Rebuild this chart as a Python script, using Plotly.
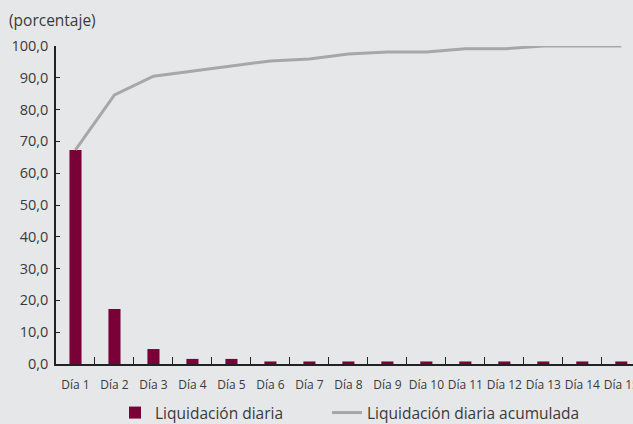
import plotly.graph_objects as go

dias = [f"Día {i}" for i in range(1, 16)]
liquidacion_diaria = [67.3, 17.3, 4.7, 1.6, 1.6, 0.8, 0.8, 0.8, 0.8, 0.8, 0.8, 0.8, 0.8, 0.8, 0.8]
liquidacion_acumulada = [67.3, 84.6, 90.5, 92.1, 93.7, 95.3, 95.9, 97.5, 98.1, 98.1, 99.1, 99.1, 100.0, 100.0, 100.0]
y_ticks = [0, 10, 20, 30, 40, 50, 60, 70, 80, 90, 100]
y_labels = ["0,0", "10,0", "20,0", "30,0", "40,0", "50,0", "60,0", "70,0", "80,0", "90,0", "100,0"]

font_family = "Open Sans, Noto Sans, sans-serif"
text_color = "#3a3a3a"
bg = "#e6e7e9"
plot_w, plot_h = 577, 318

fig = go.Figure()
fig.add_trace(go.Bar(
    x=dias, y=liquidacion_diaria, name="Liquidación diaria", legend="legend",
    marker=dict(color="#7a0038", line=dict(width=0)), width=0.31,
))
fig.add_trace(go.Scatter(
    x=dias, y=liquidacion_acumulada, name="Liquidación diaria acumulada", legend="legend2",
    mode="lines", line=dict(color="#a7a7a7", width=3), cliponaxis=False,
))

legend_common = dict(orientation="h", xanchor="left", yanchor="middle",
                     y=-49 / plot_h, itemwidth=30, bgcolor="rgba(0,0,0,0)",
                     font=dict(size=15.5, color=text_color))

fig.update_layout(
    width=633, height=424,
    margin=dict(l=56, r=0, t=46, b=60, autoexpand=False),
    paper_bgcolor=bg, plot_bgcolor=bg,
    font=dict(family=font_family, color=text_color),
    showlegend=True,
    legend=dict(x=(115 - 56) / plot_w, **legend_common),
    legend2=dict(x=(327 - 56) / plot_w, **legend_common),
    bargap=0.5,
    xaxis=dict(
        type="category", range=[-0.5, 14.3], automargin=False,
        showline=True, linecolor="#222", linewidth=1.5,
        ticks="inside", tickson="boundaries", ticklen=7, tickcolor="#222", tickwidth=1,
        tickangle=0, ticklabelstandoff=9,
        tickfont=dict(size=12, color=text_color), showgrid=False,
    ),
    yaxis=dict(
        range=[0, 100], tickvals=y_ticks, ticktext=y_labels, automargin=False,
        showline=True, linecolor="#222", linewidth=1.5,
        ticks="inside", ticklen=4, tickcolor="#222", ticklabelstandoff=3,
        tickfont=dict(size=14.5, color=text_color), showgrid=False, zeroline=False,
    ),
    annotations=[dict(
        text="(porcentaje)", xref="paper", yref="paper", x=-56 / plot_w, y=1.0 + 26 / plot_h,
        xanchor="left", yanchor="middle", showarrow=False,
        font=dict(size=15.5, color=text_color), xshift=7,
    )],
)

fig.write_html("out.html")
